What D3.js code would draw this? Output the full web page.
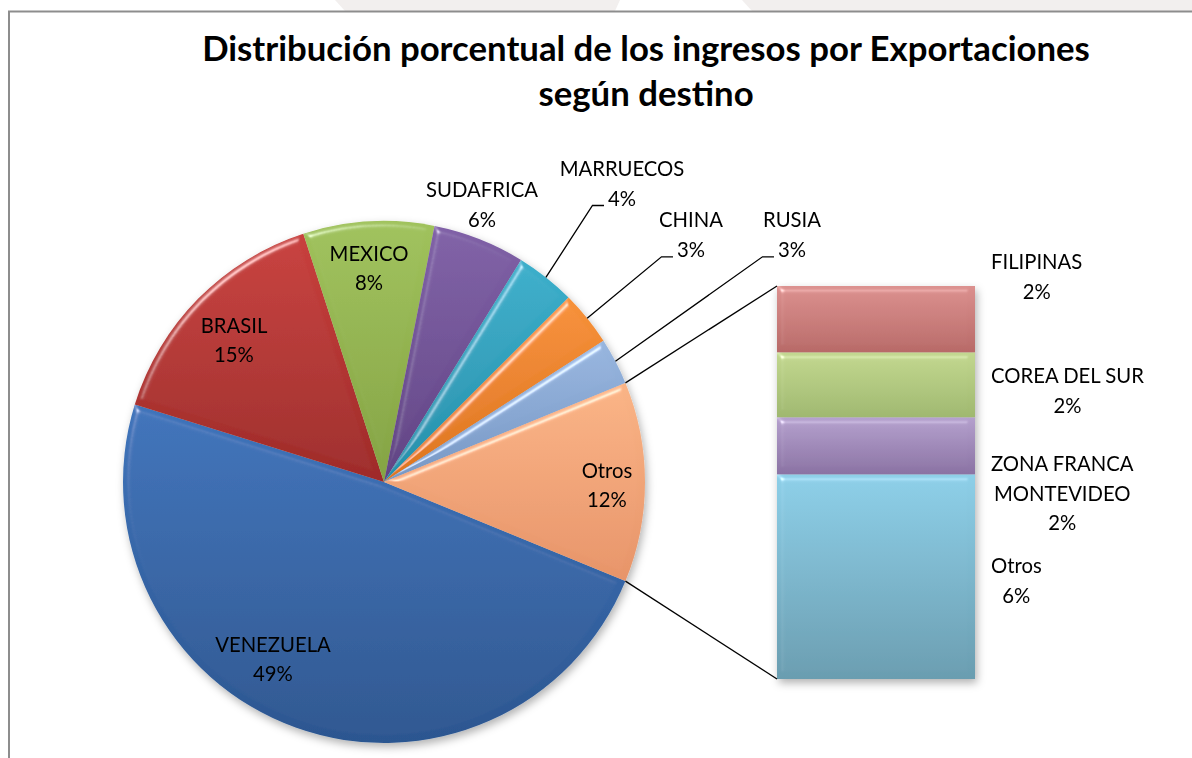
<!DOCTYPE html>
<html><head><meta charset="utf-8">
<script src="https://cdn.jsdelivr.net/npm/d3@7"></script>
<style>body{margin:0;background:#fff;} svg{display:block;}</style>
</head><body>
<script>
// ---------- DATA ----------
const categories = ["VENEZUELA","BRASIL","MEXICO","SUDAFRICA","MARRUECOS","CHINA","RUSIA","Otros"];
const pieValues  = [48.6, 15.2, 8.1, 5.7, 3.7, 3.4, 2.9, 12.4];
const barCategories = ["FILIPINAS","COREA DEL SUR","ZONA FRANCA\nMONTEVIDEO","Otros"];
const barValues     = [2.1, 2.05, 1.8, 6.45];
const titleLines = ["Distribución porcentual de los ingresos por Exportaciones","según destino"];

// ---------- STYLE / LAYOUT ----------
const W = 1192, H = 758;
const FONT = "Lato, 'Open Sans', sans-serif";
const pieColors = {
  "VENEZUELA":["#3f74bb","#2c5690"], "BRASIL":["#c8403d","#9e2b29"], "MEXICO":["#a0c25c","#84a343"],
  "SUDAFRICA":["#8061a7","#614484"], "MARRUECOS":["#3cafcb","#2690ab"], "CHINA":["#f79139","#dd7520"],
  "RUSIA":["#98b6df","#7898c5"], "Otros":["#fab486","#e79469"]
};
const barColors = ["#db908e","#c2d78f","#b4a0cd","#8dcfe8"];
const barColorsDark = ["#b86a68","#9fb86f","#8a72a3","#6a9db0"];
const cx = 384, cy = 482, R = 261;
const barX = 777, barW = 198, barTop = 286, barBottom = 679;
const lineGap = 29.5;
const pieLabelPos = {
  "VENEZUELA":[273,651.7], "BRASIL":[234,332.7], "MEXICO":[369,260.7], "SUDAFRICA":[482,197.3],
  "MARRUECOS":[622,176], "CHINA":[691,227.3], "RUSIA":[792,227.3], "Otros":[607,477.7]
};
const leaderCats = ["MARRUECOS","CHINA","RUSIA"];
const barLabelLeft = 991;
const barLabelBaselines = [269, 383, 471, 573];

const svg = d3.select("body").append("svg").attr("width", W).attr("height", H);
const defs = svg.append("defs");

// top band + frame
svg.append("path").attr("d","M335,0 L1192,0 L1192,11 L345,11 Z").attr("fill","#f2efee");
svg.append("path").attr("d","M620,0 L742,0 L752,11 L615,11 Z").attr("fill","#ffffff");
svg.append("path").attr("d","M9,758 L9,11.5 L1192,11.5").attr("fill","none").attr("stroke","#8d8d8d").attr("stroke-width",2);

// filters
const sh = defs.append("filter").attr("id","shadow").attr("x","-10%").attr("y","-10%").attr("width","125%").attr("height","125%");
sh.append("feDropShadow").attr("dx",2).attr("dy",4).attr("stdDeviation",4).attr("flood-color","#000").attr("flood-opacity",0.3);

const bv = defs.append("filter").attr("id","bevel").attr("x","-5%").attr("y","-5%").attr("width","110%").attr("height","110%");
bv.append("feGaussianBlur").attr("in","SourceAlpha").attr("stdDeviation",3).attr("result","b");
const spec = bv.append("feSpecularLighting").attr("in","b").attr("surfaceScale",4).attr("specularConstant",1)
  .attr("specularExponent",45).attr("lighting-color","#ffffff").attr("result","s");
spec.append("feDistantLight").attr("azimuth",235).attr("elevation",40);
bv.append("feComposite").attr("in","s").attr("in2","SourceAlpha").attr("operator","in").attr("result","s2");
bv.append("feComposite").attr("in","SourceGraphic").attr("in2","s2").attr("operator","arithmetic")
  .attr("k1",0).attr("k2",1).attr("k3",0.5).attr("k4",0);

function grad(id, c0, c1) {
  const g = defs.append("linearGradient").attr("id", id).attr("x1",0).attr("y1",0).attr("x2",0).attr("y2",1);
  g.append("stop").attr("offset","0%").attr("stop-color", c0);
  g.append("stop").attr("offset","100%").attr("stop-color", c1);
}
categories.forEach((c,i) => grad("pg"+i, pieColors[c][0], pieColors[c][1]));
barCategories.forEach((c,i) => grad("bg"+i, barColors[i], barColorsDark[i]));

// measuring for font fit
function measure(text, size, weight) {
  const t = svg.append("text").attr("font-family",FONT).attr("font-size",size).attr("font-weight",weight).text(text);
  const w = t.node().getComputedTextLength(); t.remove(); return w;
}
const titleSize = 30 * 888 / measure(titleLines[0], 30, "bold");
const labelSize = 20 * 153 / measure("COREA DEL SUR", 20, "normal");

// title
svg.append("g").selectAll("text").data(titleLines).join("text")
  .attr("x", 646).attr("y", (d,i) => 61 + i*45)
  .attr("text-anchor","middle").attr("font-family",FONT).attr("font-weight","bold")
  .attr("font-size", titleSize).attr("fill","#000").text(d => d);

// pie
const total = d3.sum(pieValues);
const otrosAngle = 2*Math.PI * pieValues[pieValues.length-1] / total;
const start = Math.PI/2 + otrosAngle/2;
const pie = d3.pie().sort(null).value(d => d).startAngle(start).endAngle(start + 2*Math.PI);
const arcs = pie(pieValues);
const arc = d3.arc().innerRadius(0).outerRadius(R);

const pieG = svg.append("g").attr("filter","url(#shadow)").attr("transform",`translate(${cx},${cy})`);
pieG.selectAll("path").data(arcs).join("path")
  .attr("d", arc).attr("fill", (d,i) => `url(#pg${i})`).attr("filter","url(#bevel)");

// bar
const barTotal = d3.sum(barValues);
const y = d3.scaleLinear().domain([0, barTotal]).range([barBottom, barTop]);
const below = barValues.map((v,i) => d3.sum(barValues.slice(i+1)));
const barG = svg.append("g").attr("filter","url(#shadow)");
barG.selectAll("rect").data(barValues).join("rect")
  .attr("x", barX).attr("width", barW)
  .attr("y", (d,i) => y(below[i] + d)).attr("height", (d,i) => y(below[i]) - y(below[i] + d))
  .attr("fill", (d,i) => `url(#bg${i})`).attr("filter","url(#bevel)");

// connector lines
const oArc = arcs[arcs.length-1];
const pt = a => [cx + R*Math.sin(a), cy - R*Math.cos(a)];
const pUp = pt(oArc.startAngle), pDn = pt(oArc.endAngle);
svg.append("line").attr("x1",pUp[0]).attr("y1",pUp[1]).attr("x2",barX).attr("y2",y(barTotal)).attr("stroke","#000").attr("stroke-width",1.3);
svg.append("line").attr("x1",pDn[0]).attr("y1",pDn[1]).attr("x2",barX).attr("y2",y(0)).attr("stroke","#000").attr("stroke-width",1.3);

// pie labels
const pct = v => Math.round(v / total * 100) + "%";
const lblG = svg.append("g").attr("font-family",FONT).attr("font-size",labelSize).attr("fill","#000");
categories.forEach((c,i) => {
  const [lx, ly] = pieLabelPos[c];
  const t = lblG.append("text").attr("text-anchor","middle");
  t.append("tspan").attr("x",lx).attr("y",ly).text(c);
  const p = t.append("tspan").attr("x",lx).attr("y",ly+lineGap).text(pct(pieValues[i]));
  if (leaderCats.includes(c)) {
    const bb = p.node().getBBox();
    const a = (arcs[i].startAngle + arcs[i].endAngle)/2;
    const m = pt(a);
    const ex = bb.x - 4, ey = ly + lineGap;
    svg.append("polyline").attr("points", `${m[0]},${m[1]} ${ex-11.5},${ey} ${ex},${ey}`)
      .attr("fill","none").attr("stroke","#000").attr("stroke-width",1.3);
  }
});

// bar labels
barCategories.forEach((c,i) => {
  const lines = c.split("\n").concat([pct(barValues[i])]);
  const maxW = d3.max(lines, l => measure(l, labelSize, "normal"));
  const lx = barLabelLeft + maxW/2;
  const t = lblG.append("text").attr("text-anchor","middle");
  lines.forEach((l,j) => t.append("tspan").attr("x",lx).attr("y",barLabelBaselines[i] + j*lineGap).text(l));
});
</script>
</body></html>
